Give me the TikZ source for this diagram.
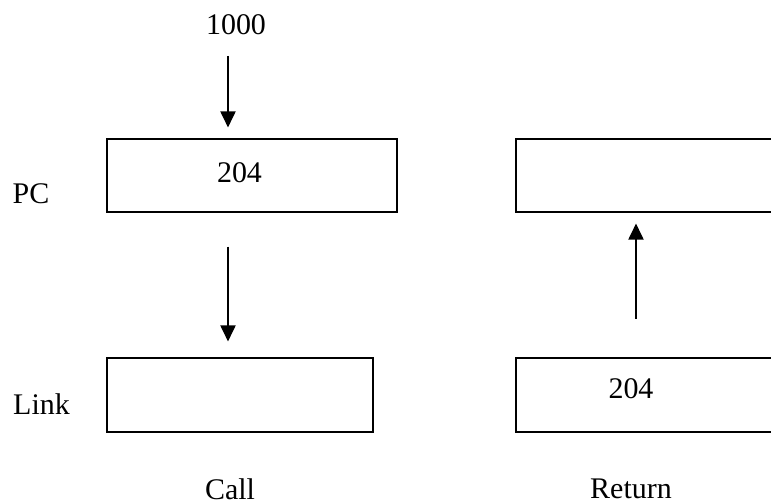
\documentclass[tikz,border=0pt]{standalone}
\usepackage{fontspec}
\setmainfont{Liberation Serif}
\usetikzlibrary{arrows.meta}

\begin{document}
\begin{tikzpicture}[x=0.025cm,y=-0.025cm,
  every node/.style={font=\fontsize{21.3}{25}\selectfont},
  reg/.style={draw,line width=0.8pt,inner sep=0pt},
  arr/.style={line width=0.9pt,-{Triangle[width=0.38cm,length=0.4cm]}}]
\clip (0,0) rectangle (771,504);
% registers
\node[reg,minimum width=7.25cm,minimum height=1.825cm] (pcCall) at (252,175.5) {};
\node[reg,minimum width=6.65cm,minimum height=1.85cm] (linkCall) at (240,395) {};
\node[reg,minimum width=7.25cm,minimum height=1.825cm] (pcRet) at (661,175.5) {};
\node[reg,minimum width=6.65cm,minimum height=1.85cm] (linkRet) at (649,395) {};
% texts
\node (in1000) at (236,25) {1000};
\node (pcVal) at (239.5,172.5) {204};
\node (linkVal) at (631,389) {204};
\node (pcLbl) at (31,193.5) {PC};
\node (linkLbl) at (41.5,404.5) {Link};
\node (callLbl) at (230,489) {Call};
\node (retLbl) at (631,489) {Return};
% arrows
\coordinate (c1) at (228,56);
\coordinate (c2) at (636,319);
\draw[arr,shorten >=0.275cm] (c1) -- (c1 |- pcCall.north);
\draw[arr,shorten <=0.85cm,shorten >=0.4cm] (pcCall.south -| c1) -- (linkCall.north -| c1);
\draw[arr,shorten >=0.275cm] (c2) -- (c2 |- pcRet.south);
\end{tikzpicture}
\end{document}
